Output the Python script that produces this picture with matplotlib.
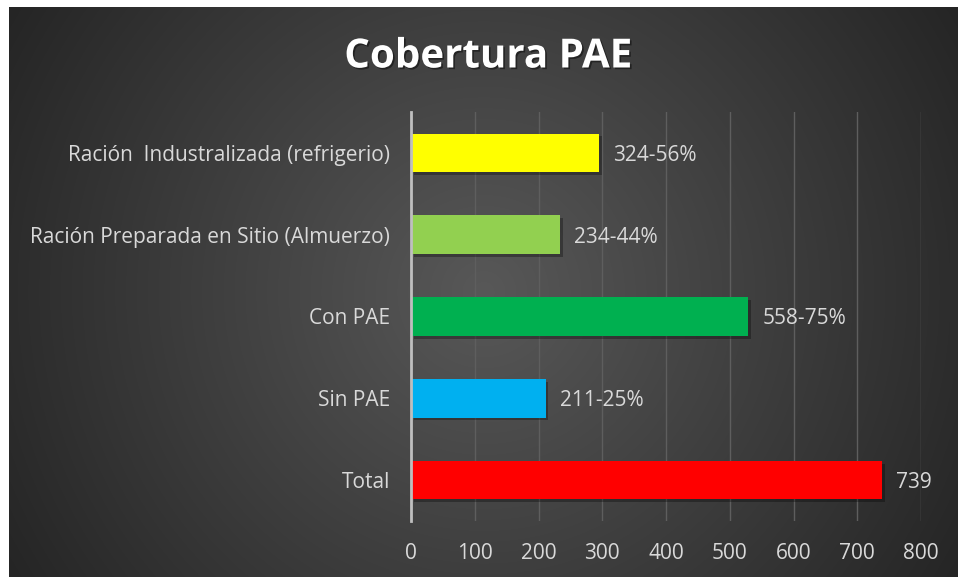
import numpy as np
import matplotlib
matplotlib.use("Agg")
import matplotlib.pyplot as plt
import matplotlib.patheffects as pe

categories = ["Total", "Sin PAE", "Con PAE",
              "Ración Preparada en Sitio (Almuerzo)",
              "Ración  Industralizada (refrigerio)"]
values = [739, 211, 529, 234, 295]
bar_labels = ["739", "211-25%", "558-75%", "234-44%", "324-56%"]
colors = ["#FF0000", "#00B0F0", "#00B050", "#92D050", "#FFFF00"]
xticks = [0, 100, 200, 300, 400, 500, 600, 700, 800]
title = "Cobertura PAE"

W, H = 958, 577
fig = plt.figure(figsize=(W / 100, H / 100), dpi=100)
fig.patch.set_facecolor("white")

# background radial gradient panel
x0, y0 = 9, 7
bg = fig.add_axes([x0 / W, 0, 1 - x0 / W, 1 - y0 / H])
bg.set_axis_off()
yy, xx = np.mgrid[0:H - y0, 0:W - x0]
cx, cy = (W - x0) / 2, (H - y0) / 2
r = np.sqrt((xx - cx) ** 2 + (yy - cy) ** 2)
r = r / r.max()
c = 0.345 - (0.345 - 0.145) * r
img = np.dstack([c, c, c])
bg.imshow(img, aspect="auto", extent=[0, 1, 0, 1], interpolation="bilinear")
bg.set_xlim(0, 1)
bg.set_ylim(0, 1)

font = "Open Sans"
txtcol = "#d9d9d9"
fs = 15

ax = fig.add_axes([411 / W, 1 - 521 / H, (921 - 411) / W, (521 - 112) / H])
ax.patch.set_alpha(0)
y = np.arange(len(categories))
bars = ax.barh(y, values, height=0.47, color=colors, zorder=3)
for b in bars:
    b.set_path_effects([pe.SimplePatchShadow(offset=(2, -2), shadow_rgbFace="black", alpha=0.3), pe.Normal()])
ax.set_xlim(0, 800)
ax.set_ylim(-0.5, len(categories) - 0.5)
ax.set_xticks(xticks)
ax.set_xticklabels([str(t) for t in xticks], fontsize=fs, color=txtcol, family=font)
ax.set_yticks(y)
ax.set_yticklabels(categories, fontsize=fs, color=txtcol, family=font)
ax.tick_params(axis="x", length=0, pad=16)
ax.tick_params(axis="y", length=0, pad=15)
ax.grid(axis="x", color="#5e5e5e", linewidth=1, zorder=0)
for s in ["top", "right", "bottom"]:
    ax.spines[s].set_visible(False)
ax.spines["left"].set_color("#bfbfbf")
ax.spines["left"].set_linewidth(2)
ax.spines["left"].set_zorder(4)

for yi, v, lab in zip(y, values, bar_labels):
    ax.text(v + 22, yi - 0.03, lab, va="center", ha="left", fontsize=fs,
            color=txtcol, family=font)

fig.text(488 / W, 1 - 57 / H, title, ha="center", va="center", fontsize=29,
         fontweight="bold", color="white", family=font,
         path_effects=[pe.withSimplePatchShadow(offset=(1.2, -1.2), shadow_rgbFace="black", alpha=0.45)])

fig.savefig("out.png", dpi=100, facecolor="white")
